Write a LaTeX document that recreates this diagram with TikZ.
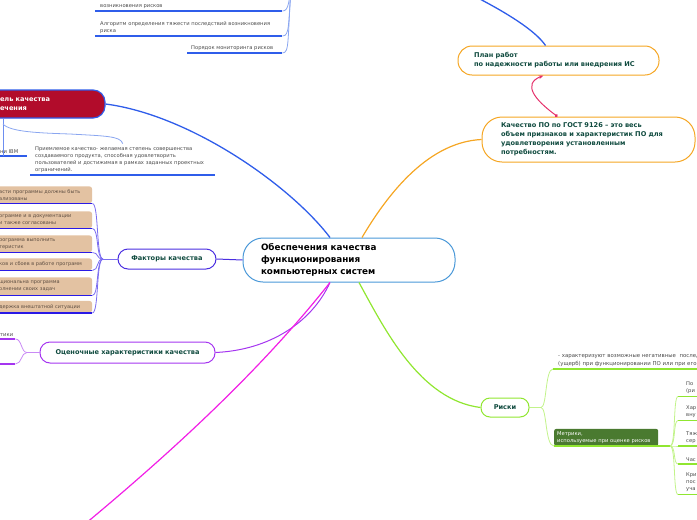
\documentclass[tikz,border=0pt]{standalone}
\usepackage{fontspec}
\setmainfont{DejaVu Sans}
\usetikzlibrary{arrows.meta,calc}
\definecolor{cblue}{HTML}{4A98D8}
\definecolor{orng}{HTML}{F5A623}
\definecolor{pinkc}{HTML}{E5306A}
\definecolor{bl}{HTML}{2F5DEA}
\definecolor{bll}{HTML}{8AA6F0}
\definecolor{fl}{HTML}{4A2EE0}
\definecolor{fu}{HTML}{2A1AE6}
\definecolor{fbr}{HTML}{7A6CF0}
\definecolor{tanf}{HTML}{E3C2A2}
\definecolor{purp}{HTML}{A535F0}
\definecolor{purpl}{HTML}{C98AF5}
\definecolor{mag}{HTML}{F21FE6}
\definecolor{lime}{HTML}{90E630}
\definecolor{limel}{HTML}{C2F38A}
\definecolor{mgreen}{HTML}{4A7A30}
\definecolor{redf}{HTML}{B20C2B}
\definecolor{dgreen}{HTML}{0F4A3E}
\definecolor{txtgray}{HTML}{4A4A4A}
\definecolor{tantxt}{HTML}{5E4E42}
\begin{document}
\begin{tikzpicture}[x=1pt,y=-1pt,
  small/.style={font=\fontsize{5.2}{7}\selectfont, text=txtgray, align=left},
  ulitem/.style={small, anchor=south west, inner ysep=2.5pt},
  topic/.style={draw, line width=1pt, font=\fontsize{6.6}{9}\selectfont\bfseries, text=dgreen, inner ysep=0pt},
  fitem/.style={small, font=\fontsize{5}{7}\selectfont, text=tantxt, fill=tanf, rounded corners=3pt, anchor=south west, inner xsep=5pt, inner ysep=2pt, text width=88pt, minimum height=#1},
  ulb/.style={bl, line width=1.5pt},
  brb/.style={bll, line width=0.8pt},
  ulf/.style={fu, line width=1.2pt},
  brf/.style={fbr, line width=0.8pt},
  ulp/.style={purp, line width=1.2pt},
  brp/.style={purpl, line width=0.8pt},
  ull/.style={lime, line width=1.5pt},
  brl/.style={limel, line width=0.8pt}
]
\useasboundingbox (0,0) rectangle (697,520);

% central topic
\node[draw=cblue, line width=1pt, rounded corners=20pt, minimum width=212pt, minimum height=44pt,
      text width=176pt, inner xsep=18pt, align=left, font=\fontsize{8.8}{12}\selectfont\bfseries] (ctr) at (349,260)
      {\vphantom{Ay}Обеспечения качества\\функционирования\\компьютерных систем\vphantom{y}};

% right topics
\node[topic, draw=orng, rounded corners=14pt, minimum width=201pt, minimum height=29pt, text width=169pt, inner xsep=16pt, align=left] (plan) at (558.5,60.5)
  {План работ\\по надежности работы или внедрения ИС};
\node[topic, draw=orng, rounded corners=20pt, minimum width=213pt, minimum height=45pt, text width=175pt, inner xsep=19pt, align=left] (kach) at (588.5,139.5)
  {Качество ПО по ГОСТ 9126 – это весь\\объем признаков и характеристик ПО для\\удовлетворения установленным\\потребностям.};
\node[topic, draw=fl, rounded corners=10pt, minimum width=98pt, minimum height=20pt, align=center] (fact) at (167,259) {Факторы качества};
\node[topic, draw=purp, rounded corners=10pt, minimum width=175pt, minimum height=21pt, align=center] (ocen) at (127.5,352.5) {Оценочные характеристики качества};
\node[topic, draw=lime, rounded corners=9pt, minimum width=48pt, minimum height=19pt, align=center] (risk) at (505,407.5) {Риски};

% red topic (cut at left edge)
\node[fill=redf, draw=bl, line width=1.2pt, rounded corners=12pt, minimum height=28pt, text width=80pt, inner xsep=25pt,
      align=left, font=\fontsize{6.6}{8.5}\selectfont\bfseries, text=white] (model) at (40,104) {ель качества\\ечения};

% main connectors
\draw[bl, line width=1.3pt] ($(ctr.north)+(-19,0)$) .. controls (290,185) and (190,115) .. (model.east);
\draw[orng, line width=1.2pt] ($(ctr.north)+(13,0)$) .. controls (390,190) and (430,142) .. (kach.west);
\draw[pinkc, line width=1pt, {Circle[length=3pt]}-{Stealth[length=5pt]}] ($(kach.north)+(-31,0)$) .. controls (535,100) and (522,84) .. ($(plan.south)+(-15,0)$);
\coordinate (tr) at (476,-3);
\draw[bl, line width=1.3pt] (tr) .. controls (505,12) and (535,30) .. ($(plan.north)+(-13,0)$);
\draw[fl, line width=1pt] (ctr.west) -- (fact.east);
\draw[purp, line width=1pt] (ocen.east) .. controls (270,350) and (312,322) .. ($(ctr.south)+(-19,0)$);
\coordinate (mb) at (85,524);
\draw[mag, line width=1.2pt] ($(ctr.south)+(-19,0)$) .. controls (265,365) and (180,445) .. (mb);
\draw[lime, line width=1.2pt] ($(ctr.south)+(10,0)$) .. controls (385,330) and (420,400) .. (risk.west);

% top-left items
\node[ulitem, inner xsep=5pt, text width=177pt] (ta) at (95,11) {возникновения рисков};
\node[ulitem, inner xsep=5pt, text width=177pt] (tb) at (95,36) {Алгоритм определения тяжести последствий возникновения\\риска};
\node[ulitem, inner xsep=4pt, text width=87pt] (tc) at (187,53) {Порядок мониторинга рисков};
\foreach \n in {ta,tb,tc} \draw[ulb] (\n.south west) -- (\n.south east);
\coordinate (tl) at (292,-25);
\draw[brb] (ta.south east) .. controls (289,11) and (289,2) .. (tl);
\draw[brb] (tb.south east) .. controls (290,36) and (288,25) .. (tl);
\draw[brb] (tc.south east) .. controls (290,53) and (287,40) .. (tl);

% under the red topic
\node[ulitem, inner xsep=5pt, text width=22pt] (ibm) at (-5,156) {ни IBM};
\node[ulitem, inner xsep=5pt, text width=175pt] (pq) at (30,175) {Приемлемое качество- желаемая степень совершенства\\создаваемого продукта, способная удовлетворить\\пользователей и достижимая в рамках заданных проектных\\ограничений.};
\draw[ulb] (ibm.south west) -- (ibm.south east);
\draw[ulb] (pq.south west) -- (pq.south east);
\coordinate (rv) at (3,118);
\coordinate (rv2) at (3,124);
\draw[bl!70, line width=0.9pt] (rv) -- (rv |- ibm.south);
\draw[brb] (rv2) .. controls (10,132) and (40,133) .. (70,134) .. controls (105,136) and (121,136) .. (pq.north);

% factor items
\node[fitem=17pt] (f1) at (-6,203.5) {асти программы должны быть\\ализованы};
\node[fitem=17pt] (f2) at (-6,228.5) {ограмме и в документации\\и также согласованы};
\node[fitem=17pt] (f3) at (-6,252.5) {рограмма выполнить\\теристик};
\node[fitem=12pt] (f4) at (-6,270.5) {ков и сбоев в работе программ};
\node[fitem=18pt] (f5) at (-6,295.5) {щиональна программа\\олнении своих задач};
\node[fitem=12pt] (f6) at (-6,313) {держка внештатной ситуации};
\coordinate (ff) at (103,259);
\draw[brf] (fact.west) -- (ff);
\foreach \n in {f1,f2,f3,f4,f5,f6} {
  \draw[ulf] (\n.south west) -- (\n.south east);
  \draw[brf] (ff) .. controls (96,259) and (99,0 |- \n.south east) .. (\n.south east);
}

% evaluation items
\node[ulitem, inner xsep=5pt, text width=10pt] (o1) at (-5,339) {тики};
\node[ulitem, inner xsep=5pt, text width=10pt, minimum height=10pt] (o2) at (-5,364) {};
\coordinate (of) at (27,352.5);
\draw[brp] (ocen.west) -- (of);
\foreach \n in {o1,o2} {
  \draw[ulp] (\n.south west) -- (\n.south east);
  \draw[brp] (of) .. controls (21,352.5) and (22,0 |- \n.south east) .. (\n.south east);
}

% risk items
\node[ulitem, font=\fontsize{5.4}{7.2}\selectfont, inner xsep=5pt, text width=160pt] (r1) at (553,369) {- характеризуют возможные негативные\ \ послед\\(ущерб) при функционировании ПО или при его};
\node[small, text=white, fill=mgreen, anchor=south west, inner xsep=3pt, inner ysep=2.5pt, text width=98pt, rounded corners=2pt] (metr) at (554,446) {Метрики,\\используемые при оценке рисков};
\coordinate (rf) at (541,407.5);
\draw[brl] (risk.east) -- (rf);
\draw[brl] (rf) .. controls (547,407.5) and (545,369) .. (r1.south west);
\draw[brl] (rf) .. controls (547,407.5) and (545,446) .. (metr.south west);
\draw[ull] (r1.south west) -- (r1.south east);
\coordinate (mf) at (670,446);
\draw[ull] (metr.south west) -- (mf);
\node[ulitem, inner xsep=8pt, text width=40pt] (c1) at (678,396.5) {По\\(ри};
\node[ulitem, inner xsep=8pt, text width=40pt] (c2) at (678,420.5) {Хар\\вну};
\node[ulitem, inner xsep=8pt, text width=40pt] (c3) at (678,446) {Тяж\\сер};
\node[ulitem, inner xsep=8pt, text width=40pt] (c4) at (678,464) {Час};
\node[ulitem, inner xsep=8pt, text width=40pt] (c5) at (678,494.5) {Кри\\пос\\уча};
\foreach \n in {c1,c2,c3,c4,c5} {
  \draw[ull] (\n.south west) -- (\n.south east);
  \draw[brl] (mf) .. controls (676,446) and (673,0 |- \n.south west) .. (\n.south west);
}
\end{tikzpicture}
\end{document}
